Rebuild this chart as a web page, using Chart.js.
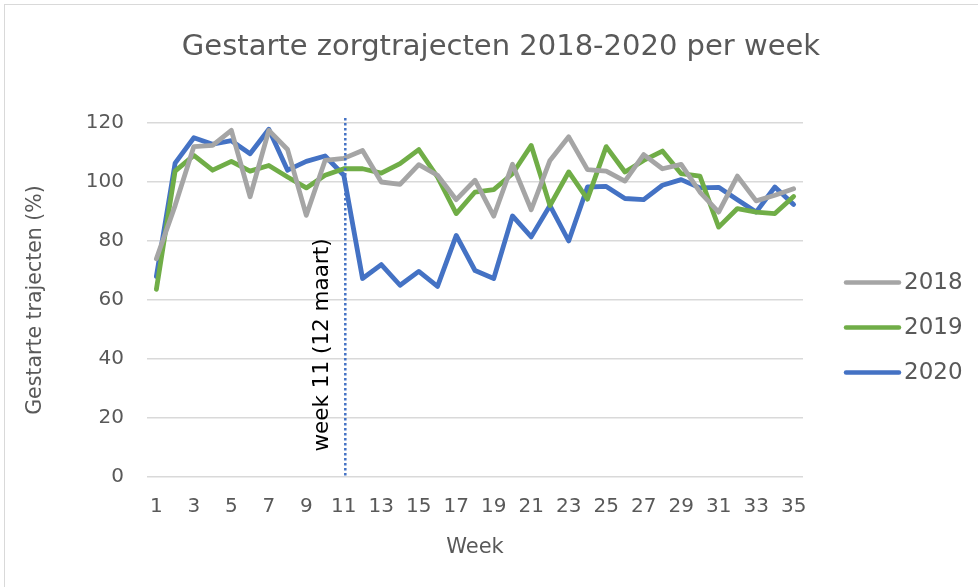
<!DOCTYPE html>
<html>
<head>
<meta charset="utf-8">
<script src="https://cdn.jsdelivr.net/npm/chart.js@4.4.1/dist/chart.umd.min.js"></script>
<style>
  html, body { margin: 0; padding: 0; background: #fff; }
  #wrap { position: relative; width: 978px; height: 587px; overflow: hidden; }
  #frame { position: absolute; left: 4px; top: 4px; width: 980px; height: 600px; border: 1px solid #d9d9d9; box-sizing: border-box; }
  canvas { position: absolute; left: 0; top: 0; }
</style>
</head>
<body>
<div id="wrap">
  <div id="frame"></div>
  <canvas id="c" width="978" height="587"></canvas>
</div>
<script>
const weeks = Array.from({length: 35}, (_, i) => String(i + 1));
const seriesNames = ['2018', '2019', '2020'];
const values2018 = [74, 92, 112, 112.4, 117.5, 95, 117.5, 111, 88.7, 107.3, 108, 110.7, 100, 99.2, 105.9, 102.3, 94, 100.6, 88.4, 106, 90.6, 107.3, 115.3, 104.2, 103.7, 100.3, 109.3, 104.5, 106, 96.6, 89.8, 102, 93.6, 95.5, 97.7];
const values2019 = [63.6, 103.7, 109, 104, 107, 103.7, 105.6, 101.7, 98, 102.3, 104.5, 104.5, 103, 106.2, 111, 101.7, 89.3, 96.6, 97.4, 102.8, 112.4, 92, 103.4, 94.2, 112, 103.4, 107.3, 110.5, 102.8, 102, 84.7, 91, 89.8, 89.3, 95.1];
const values2020 = [68, 106.4, 115, 112.8, 114, 109.6, 117.9, 104, 107, 108.8, 102.3, 67.3, 72, 65, 69.7, 64.6, 81.9, 70, 67.3, 88.5, 81.4, 92, 80, 98.3, 98.5, 94.4, 94, 98.9, 100.8, 98, 98.2, 94, 89.8, 98.3, 92.4];
const markerWeek = '11';
const markerLabel = 'week 11 (12 maart)';
const titleText = 'Gestarte zorgtrajecten 2018-2020 per week';
const yTitle = 'Gestarte trajecten (%)';
const xTitle = 'Week';
const colors = ['#A5A5A5', '#70AD47', '#4472C4'];

const FONT = "'DejaVu Sans', Verdana, sans-serif";
const TXT = '#595959';

const titlePlugin = {
  id: 'bigTitle',
  afterDraw(chart) {
    const ctx = chart.ctx;
    ctx.save();
    ctx.fillStyle = TXT;
    ctx.font = '29px ' + FONT;
    ctx.textAlign = 'center';
    ctx.textBaseline = 'middle';
    ctx.fillText(titleText, 501, 47);
    ctx.restore();
  }
};

const markerPlugin = {
  id: 'marker',
  afterDatasetsDraw(chart) {
    const ctx = chart.ctx;
    const x = chart.scales.x.getPixelForValue(weeks.indexOf(markerWeek)) + 1.5;
    const top = chart.chartArea.top - 5;
    const bottom = chart.chartArea.bottom;
    ctx.save();
    ctx.strokeStyle = '#4472C4';
    ctx.lineWidth = 2.5;
    ctx.setLineDash([2.5, 2.5]);
    ctx.beginPath();
    ctx.moveTo(x, top);
    ctx.lineTo(x, bottom);
    ctx.stroke();
    ctx.setLineDash([]);
    ctx.translate(x - 23, 345);
    ctx.rotate(-Math.PI / 2);
    ctx.fillStyle = '#000';
    ctx.font = '21.5px ' + FONT;
    ctx.textAlign = 'center';
    ctx.textBaseline = 'middle';
    ctx.fillText(markerLabel, 0, 0);
    ctx.restore();
  }
};

const legendPlugin = {
  id: 'sideLegend',
  afterDraw(chart) {
    const ctx = chart.ctx;
    ctx.save();
    const ys = [282.5, 327.5, 372.5];
    chart.data.datasets.forEach((ds, i) => {
      const y = ys[i];
      ctx.strokeStyle = ds.borderColor;
      ctx.lineWidth = 4.5;
      ctx.lineCap = 'round';
      ctx.beginPath();
      ctx.moveTo(846, y);
      ctx.lineTo(899, y);
      ctx.stroke();
      ctx.fillStyle = TXT;
      ctx.font = '23px ' + FONT;
      ctx.textAlign = 'left';
      ctx.textBaseline = 'middle';
      ctx.fillText(ds.label, 904, y + 1);
    });
    ctx.restore();
  }
};

const datasets = [values2018, values2019, values2020].map((vals, i) => ({
  label: seriesNames[i],
  data: vals,
  borderColor: colors[i],
  backgroundColor: colors[i],
  borderWidth: 4.8,
  pointRadius: 0,
  tension: 0,
  borderJoinStyle: 'round',
  borderCapStyle: 'round',
  fill: false
}));

new Chart(document.getElementById('c'), {
  type: 'line',
  data: { labels: weeks, datasets },
  options: {
    responsive: false,
    animation: false,
    devicePixelRatio: 1,
    layout: { padding: { left: 0, right: 175, top: 123, bottom: 27 } },
    plugins: {
      legend: { display: false },
      tooltip: { enabled: false },
      title: { display: false }
    },
    scales: {
      x: {
        type: 'category',
        offset: true,
        grid: { display: false, drawTicks: false },
        border: { display: false },
        ticks: {
          autoSkip: false,
          maxRotation: 0,
          color: TXT,
          padding: 18,
          font: { family: FONT, size: 20 },
          callback: function (v, i) { return (i % 2 === 0) ? weeks[i] : ''; }
        },
        title: {
          display: true,
          text: xTitle,
          color: TXT,
          font: { family: FONT, size: 21 },
          padding: { top: 10, bottom: 0 }
        },
        afterFit(scale) { scale.height = 83; }
      },
      y: {
        min: 0,
        max: 120,
        grid: { color: '#D9D9D9', lineWidth: 1.5, drawTicks: false },
        border: { display: false },
        ticks: {
          stepSize: 20,
          color: TXT,
          padding: 23,
          font: { family: FONT, size: 20 }
        },
        title: {
          display: true,
          text: yTitle,
          color: TXT,
          font: { family: FONT, size: 20.5 },
          padding: { top: 23, bottom: 0 }
        },
        afterFit(scale) { scale.width = 147; }
      }
    }
  },
  plugins: [markerPlugin, legendPlugin, titlePlugin]
});
</script>
</body>
</html>
